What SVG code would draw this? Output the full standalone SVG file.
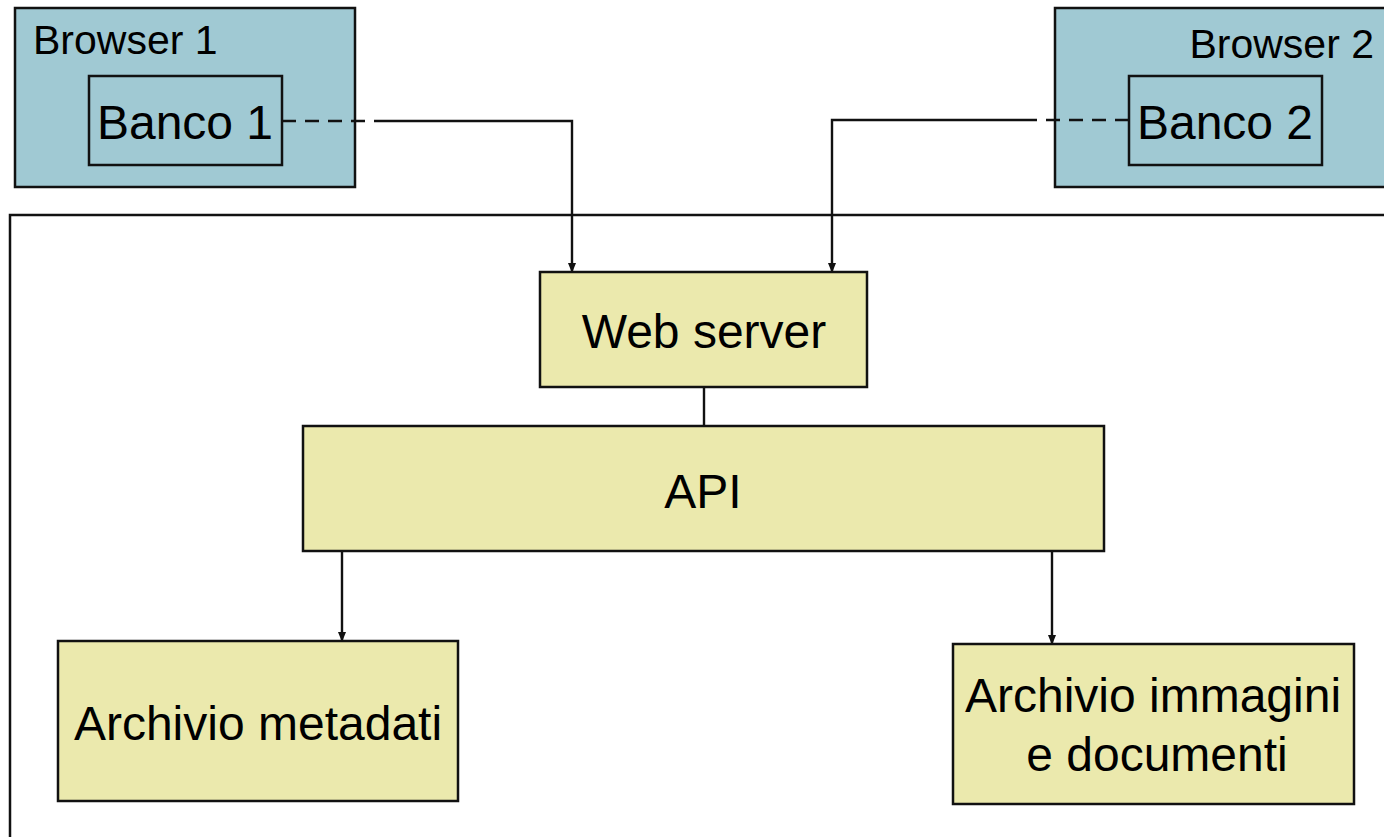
<svg xmlns="http://www.w3.org/2000/svg" width="1384" height="837" viewBox="0 0 1384 837">
<defs>
<style>
.browser{fill:#A0C9D3;stroke:#111;stroke-width:2.5}
.inner{fill:none;stroke:#111;stroke-width:2.5}
.box{fill:#EBE9AD;stroke:#111;stroke-width:2.5}
.frame{fill:none;stroke:#111;stroke-width:2.5}
.lbl{font-family:"Liberation Sans",Arial,sans-serif;fill:#000}
.big{font-size:48px}
.small{font-size:41px}
.conn{fill:none;stroke:#111;stroke-width:2.4}
.dash{stroke-dasharray:14,9}
</style>
<marker id="arr" markerWidth="10" markerHeight="10" refX="9" refY="5" orient="auto" markerUnits="userSpaceOnUse">
<path d="M0,1 L10,5 L0,9 Z" fill="#111"/>
</marker>
</defs>
<rect width="1384" height="837" fill="#fff"/>
<g id="container"><path class="frame" d="M10,837 L10,215 L1386,215"/></g>
<g id="browser1">
<rect class="browser" x="15" y="8" width="340" height="179"/>
<text class="lbl small" x="33" y="54">Browser 1</text>
</g>
<g id="banco1">
<rect class="inner" x="89" y="76" width="193" height="89"/>
<text class="lbl big" x="185" y="139" text-anchor="middle">Banco 1</text>
</g>
<g id="browser2">
<rect class="browser" x="1055" y="8" width="340" height="179"/>
<text class="lbl small" x="1374" y="58" text-anchor="end">Browser 2</text>
</g>
<g id="banco2">
<rect class="inner" x="1129" y="76" width="193" height="89"/>
<text class="lbl big" x="1225" y="139" text-anchor="middle">Banco 2</text>
</g>
<g id="webserver">
<rect class="box" x="540" y="272" width="327" height="115"/>
<text class="lbl big" x="704" y="348" text-anchor="middle">Web server</text>
</g>
<g id="api">
<rect class="box" x="303" y="426" width="801" height="125"/>
<text class="lbl big" x="703" y="508" text-anchor="middle">API</text>
</g>
<g id="metadati">
<rect class="box" x="58" y="641" width="400" height="160"/>
<text class="lbl big" x="258" y="740" text-anchor="middle">Archivio metadati</text>
</g>
<g id="immagini">
<rect class="box" x="953" y="644" width="401" height="160"/>
<text class="lbl big" x="1153" y="712" text-anchor="middle">Archivio immagini</text>
<text class="lbl big" x="1157" y="771" text-anchor="middle">e documenti</text>
</g>
<g id="connectors">
<path class="conn dash" d="M282,121 L380,121"/>
<path class="conn" d="M380,121 L572,121 L572,272" marker-end="url(#arr)"/>
<path class="conn dash" d="M1129,120 L1030,120"/>
<path class="conn" d="M1030,120 L832,120 L832,272" marker-end="url(#arr)"/>
<path class="conn" d="M704,387 L704,426"/>
<path class="conn" d="M342,551 L342,641" marker-end="url(#arr)"/>
<path class="conn" d="M1052,551 L1052,644" marker-end="url(#arr)"/>
</g>
</svg>
